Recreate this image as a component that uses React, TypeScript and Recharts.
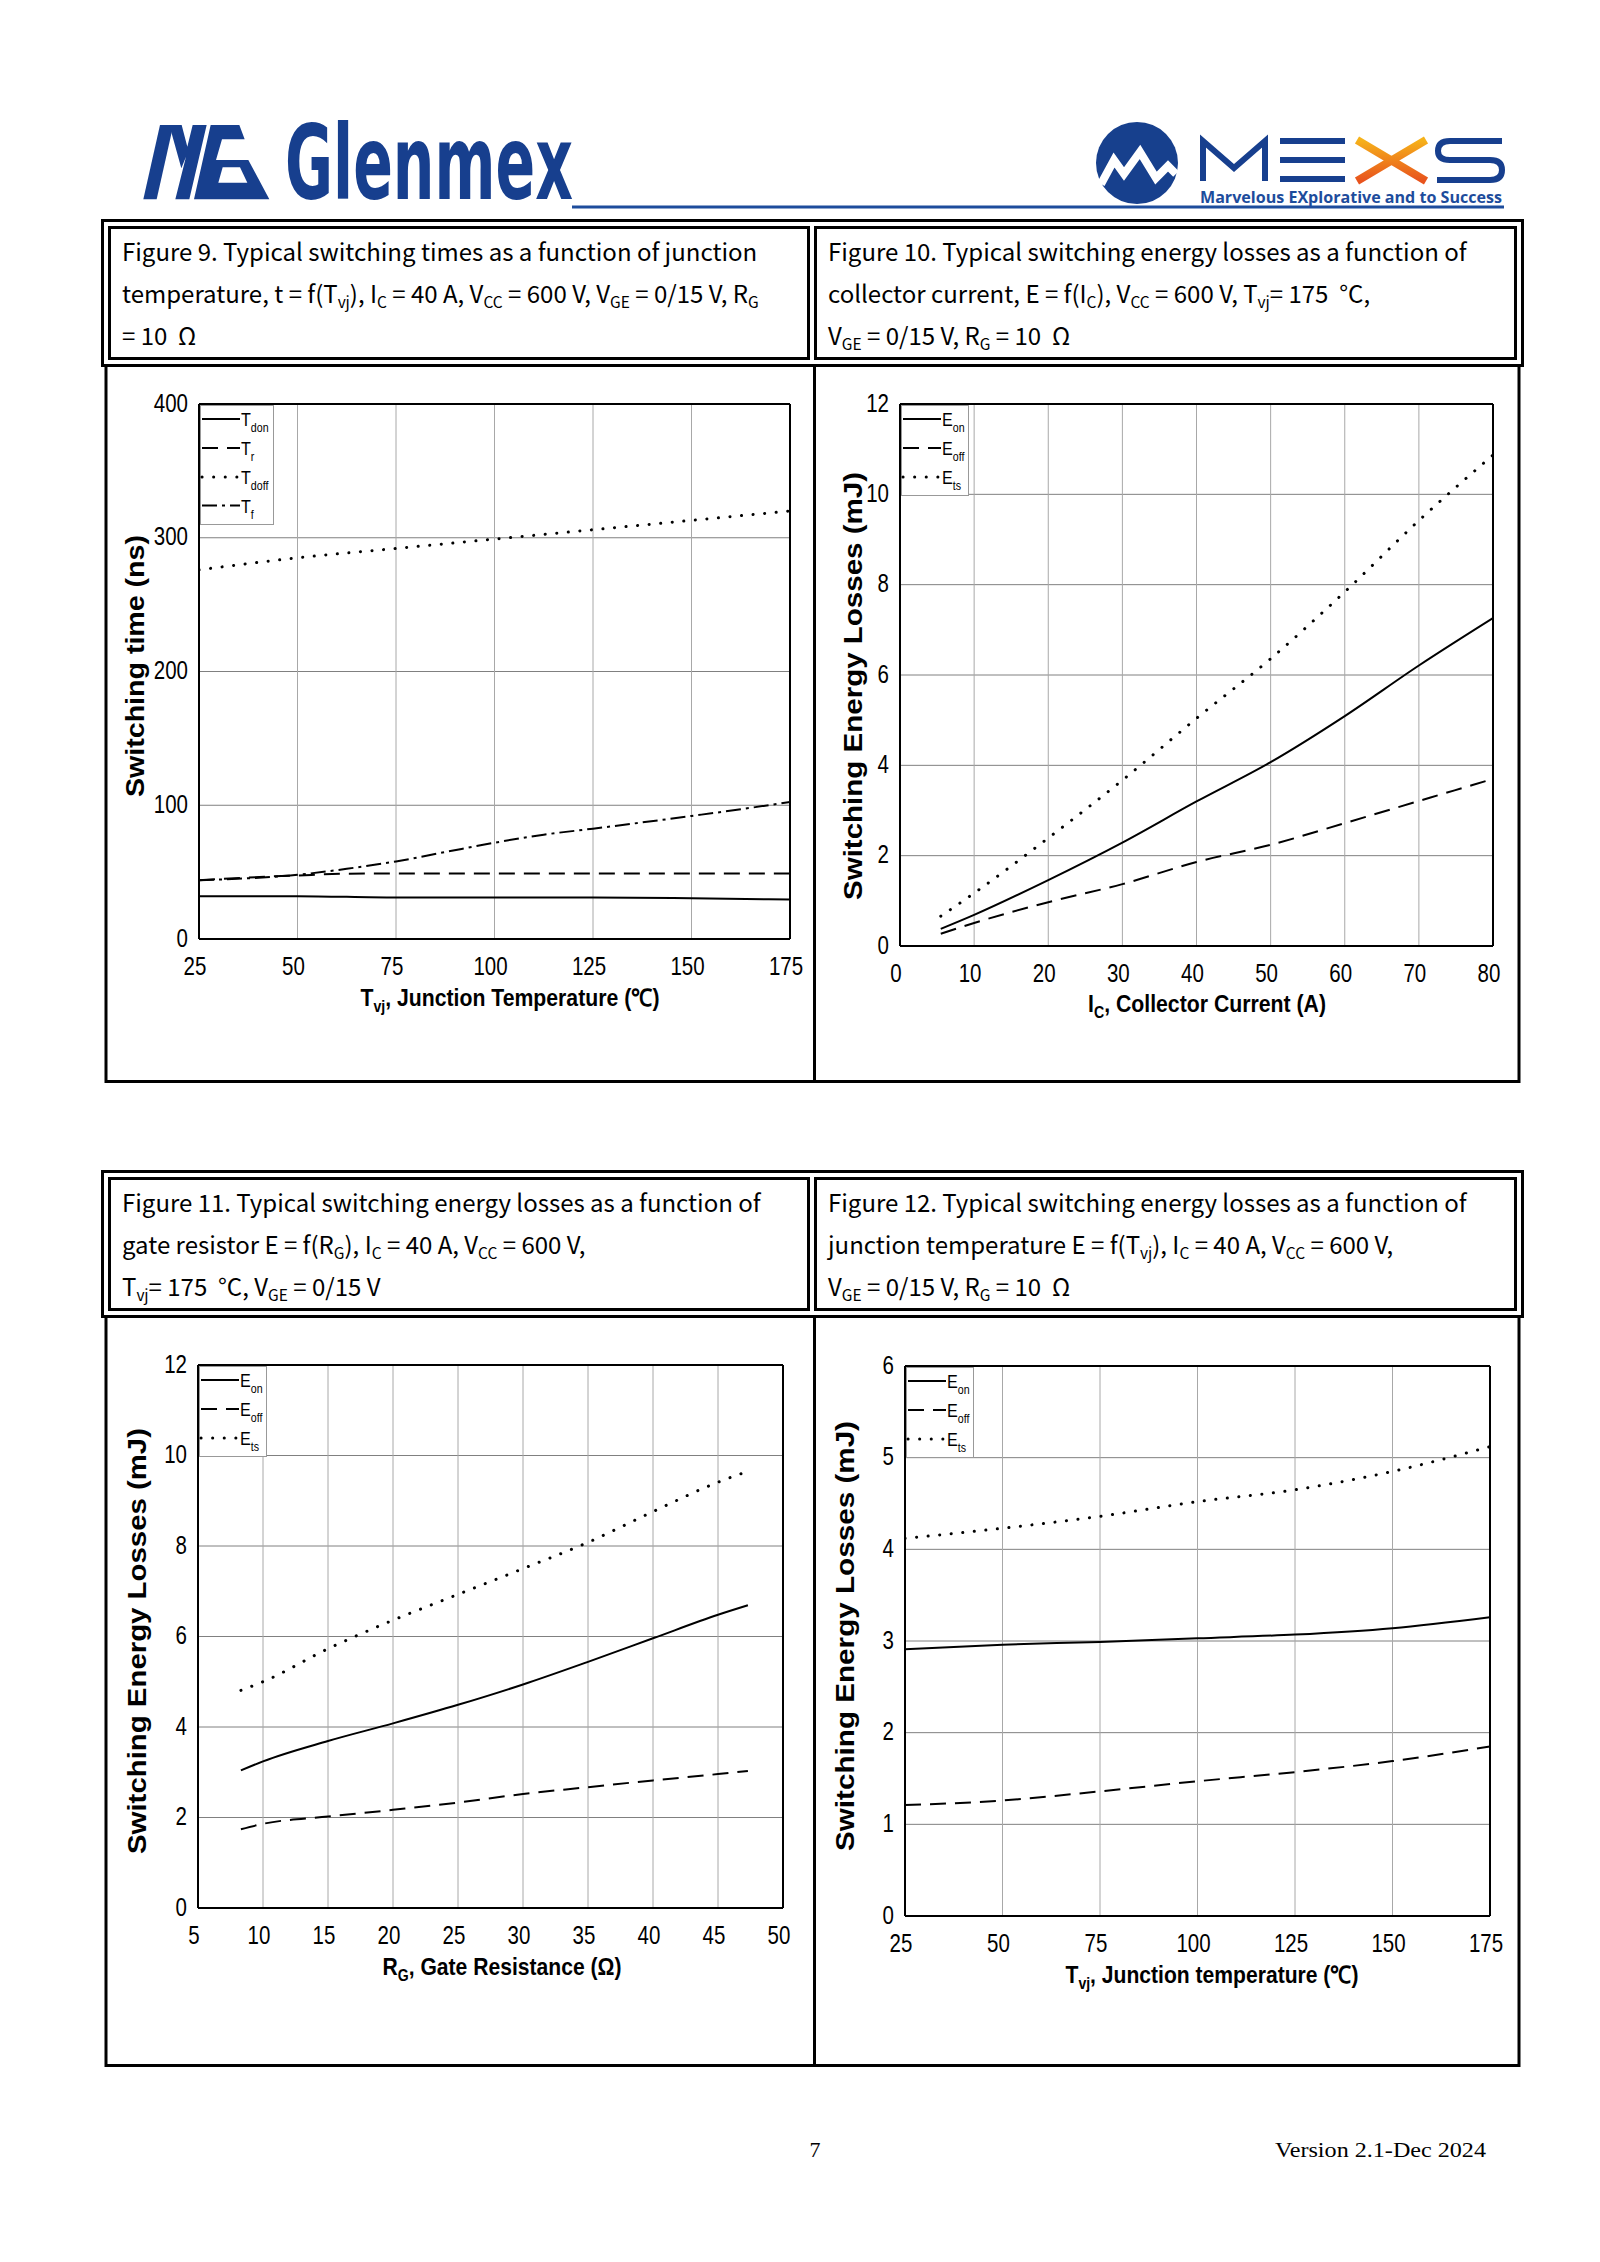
import React from "react";
import { LineChart, Line, XAxis, YAxis, CartesianGrid, ReferenceLine } from "recharts";

// ---- Figure 9: switching times vs junction temperature (ns)
const f9Temp = [25, 50, 75, 100, 125, 150, 175];
const f9Tdon = [32, 32, 31, 31, 31, 30.5, 29.5];
const f9TrTemp = [25, 37.5, 50, 62.5, 75, 100, 125, 150, 175];
const f9Tr = [44, 46, 47.5, 48.8, 49, 49, 49, 49, 49];
const f9Tdoff = [276, 285, 292, 299, 306, 313, 320];
const f9TfTemp = [25, 50, 62.5, 75, 87.5, 100, 112.5, 125, 150, 162.5, 175];
const f9Tf = [44, 48, 52.5, 58, 65, 72, 78, 82.5, 92, 97, 102.5];
const f9XTicks = [25, 50, 75, 100, 125, 150, 175];
const f9YTicks = [0, 100, 200, 300, 400];

// ---- Figure 10: energy losses vs collector current (mJ)
const f10Ic = [5.5, 10, 20, 30, 40, 50, 60, 70, 80];
const f10Eon = [0.38, 0.69, 1.46, 2.29, 3.2, 4.07, 5.09, 6.21, 7.26];
const f10Eoff = [0.27, 0.51, 0.97, 1.37, 1.86, 2.24, 2.72, 3.21, 3.7];
const f10Ets = [0.66, 1.17, 2.39, 3.67, 5.04, 6.36, 7.84, 9.42, 10.87];
const f10XTicks = [0, 10, 20, 30, 40, 50, 60, 70, 80];
const f10YTicks = [0, 2, 4, 6, 8, 10, 12];

// ---- Figure 11: energy losses vs gate resistance (mJ)
const f11Rg = [8.3, 10, 15, 20, 25, 30, 35, 40, 45, 47.3];
const f11Eon = [3.04, 3.24, 3.69, 4.08, 4.49, 4.94, 5.44, 5.96, 6.48, 6.69];
const f11Eoff = [1.74, 1.86, 2.02, 2.17, 2.33, 2.52, 2.67, 2.82, 2.96, 3.03];
const f11Ets = [4.81, 5.0, 5.73, 6.36, 6.93, 7.5, 8.08, 8.76, 9.41, 9.65];
const f11XTicks = [5, 10, 15, 20, 25, 30, 35, 40, 45, 50];
const f11YTicks = [0, 2, 4, 6, 8, 10, 12];

// ---- Figure 12: energy losses vs junction temperature (mJ)
const f12Temp = [25, 50, 75, 100, 125, 150, 175];
const f12Eon = [2.91, 2.96, 2.99, 3.03, 3.07, 3.14, 3.26];
const f12Eoff = [1.21, 1.26, 1.36, 1.47, 1.57, 1.69, 1.85];
const f12Ets = [4.12, 4.23, 4.36, 4.52, 4.65, 4.85, 5.12];
const f12XTicks = [25, 50, 75, 100, 125, 150, 175];
const f12YTicks = [0, 1, 2, 3, 4, 5, 6];

// ---- heading texts (_{..} = subscript)
const t9 = [
  "Figure 9. Typical switching times as a function of junction",
  "temperature, t = f(T_{vj}), I_{C} = 40 A, V_{CC} = 600 V, V_{GE} = 0/15 V, R_{G}",
  "= 10  Ω",
];
const t10 = [
  "Figure 10. Typical switching energy losses as a function of",
  "collector current, E = f(I_{C}), V_{CC} = 600 V, T_{vj}= 175  °C,",
  "V_{GE} = 0/15 V, R_{G} = 10  Ω",
];
const t11 = [
  "Figure 11. Typical switching energy losses as a function of",
  "gate resistor E = f(R_{G}), I_{C} = 40 A, V_{CC} = 600 V,",
  "T_{vj}= 175  °C, V_{GE} = 0/15 V",
];
const t12 = [
  "Figure 12. Typical switching energy losses as a function of",
  "junction temperature E = f(T_{vj}), I_{C} = 40 A, V_{CC} = 600 V,",
  "V_{GE} = 0/15 V, R_{G} = 10  Ω",
];

const AX = "'Liberation Sans', Arial, sans-serif";
const HEAD = "'Noto Sans CJK SC', 'Noto Sans', sans-serif";

const SOLID = { dash: undefined as string | undefined, w: 2, cap: "butt" };
const DASH = { dash: "16 9", w: 2, cap: "butt" };
const DOT = { dash: "0.1 11.5", w: 3, cap: "round" };
const DASHDOT = { dash: "15 5 3 5", w: 2, cap: "butt" };

const pts = (xs: number[], ys: number[]) => xs.map((x, i) => ({ x, y: ys[i] }));

type Ser = { sub: string; main: string; data: { x: number; y: number }[]; st: typeof SOLID };
type Fig = {
  plot: { x: number; y: number; w: number; h: number };
  xDom: [number, number];
  xTicks: number[];
  yDom: [number, number];
  yTicks: number[];
  series: Ser[];
  yTitle: string;
  yTitleX: number;
  yTitleY: number;
  yTitleLen: number;
  xTitle: string;
  xTitleX: number;
  xTitleY: number;
  xTitleLen: number;
  legW: number;
  legH: number;
};

const eSeries = (xsOn: number[], on: number[], xsOff: number[], off: number[], xsTs: number[], ts: number[]): Ser[] => [
  { main: "E", sub: "on", data: pts(xsOn, on), st: SOLID },
  { main: "E", sub: "off", data: pts(xsOff, off), st: DASH },
  { main: "E", sub: "ts", data: pts(xsTs, ts), st: DOT },
];

const figs: Fig[] = [
  {
    plot: { x: 199, y: 404, w: 591, h: 535 },
    xDom: [25, 175], xTicks: f9XTicks, yDom: [0, 400], yTicks: f9YTicks,
    series: [
      { main: "T", sub: "don", data: pts(f9Temp, f9Tdon), st: SOLID },
      { main: "T", sub: "r", data: pts(f9TrTemp, f9Tr), st: DASH },
      { main: "T", sub: "doff", data: pts(f9Temp, f9Tdoff), st: DOT },
      { main: "T", sub: "f", data: pts(f9TfTemp, f9Tf), st: DASHDOT },
    ],
    yTitle: "Switching time (ns)", yTitleX: 144, yTitleY: 666, yTitleLen: 262,
    xTitle: "T_{vj}, Junction Temperature (℃)", xTitleX: 510, xTitleY: 1006, xTitleLen: 299,
    legW: 73, legH: 119,
  },
  {
    plot: { x: 900, y: 404, w: 593, h: 542 },
    xDom: [0, 80], xTicks: f10XTicks, yDom: [0, 12], yTicks: f10YTicks,
    series: eSeries(f10Ic, f10Eon, f10Ic, f10Eoff, f10Ic, f10Ets),
    yTitle: "Switching Energy Losses (mJ)", yTitleX: 862, yTitleY: 686, yTitleLen: 428,
    xTitle: "I_{C}, Collector Current (A)", xTitleX: 1207, xTitleY: 1012, xTitleLen: 238,
    legW: 67, legH: 90,
  },
  {
    plot: { x: 198, y: 1365, w: 585, h: 543 },
    xDom: [5, 50], xTicks: f11XTicks, yDom: [0, 12], yTicks: f11YTicks,
    series: eSeries(f11Rg, f11Eon, f11Rg, f11Eoff, f11Rg, f11Ets),
    yTitle: "Switching Energy Losses (mJ)", yTitleX: 146, yTitleY: 1641, yTitleLen: 426,
    xTitle: "R_{G}, Gate Resistance (Ω)", xTitleX: 502, xTitleY: 1975, xTitleLen: 239,
    legW: 67, legH: 90,
  },
  {
    plot: { x: 905, y: 1366, w: 585, h: 550 },
    xDom: [25, 175], xTicks: f12XTicks, yDom: [0, 6], yTicks: f12YTicks,
    series: eSeries(f12Temp, f12Eon, f12Temp, f12Eoff, f12Temp, f12Ets),
    yTitle: "Switching Energy Losses (mJ)", yTitleX: 854, yTitleY: 1636, yTitleLen: 430,
    xTitle: "T_{vj}, Junction temperature (℃)", xTitleX: 1212, xTitleY: 1983, xTitleLen: 293,
    legW: 67, legH: 90,
  },
];

const parse = (s: string) =>
  s.split(/(_\{[^}]*\})/).filter(Boolean).map((p) =>
    p.startsWith("_{") ? { t: p.slice(2, -1), sub: true } : { t: p, sub: false }
  );

function Rich({ s, subSize, subDy }: { s: string; subSize: number; subDy: number }) {
  const parts = parse(s);
  return (
    <>
      {parts.map((p, i) => {
        const prevSub = i > 0 && parts[i - 1].sub;
        const dy = p.sub ? subDy : prevSub ? -subDy : 0;
        return (
          <tspan key={i} dy={dy || undefined} fontSize={p.sub ? subSize : undefined}>
            {p.t}
          </tspan>
        );
      })}
    </>
  );
}

const M_TOP = 30, M_LEFT = 40, M_RIGHT = 30, M_BOTTOM = 90, YW = 60, XH = 40;

function Chart({ f }: { f: Fig }) {
  const { plot } = f;
  const left = plot.x - M_LEFT - YW;
  const top = plot.y - M_TOP;
  const width = plot.w + M_LEFT + YW + M_RIGHT;
  const height = plot.h + M_TOP + M_BOTTOM + XH;
  const xTick = (p: any) => (
    <text transform={`translate(${p.x - 4},${p.y + 35.5}) scale(0.82,1)`} textAnchor="middle" fontSize={25} fontFamily={AX} fill="#000">
      {p.payload.value}
    </text>
  );
  const yTick = (p: any) => (
    <text transform={`translate(${p.x - 11},${p.y + 7.5}) scale(0.82,1)`} textAnchor="end" fontSize={25} fontFamily={AX} fill="#000">
      {p.payload.value}
    </text>
  );
  return (
    <div style={{ position: "absolute", left, top }}>
      <LineChart width={width} height={height} margin={{ top: M_TOP, left: M_LEFT, right: M_RIGHT, bottom: M_BOTTOM }}>
        <CartesianGrid vertical={false} stroke="#808080" strokeWidth={1} horizontalValues={f.yTicks} />
        <CartesianGrid horizontal={false} stroke="#a8a8a8" strokeWidth={1} verticalValues={f.xTicks} />
        <XAxis type="number" dataKey="x" domain={f.xDom} ticks={f.xTicks} interval={0} allowDataOverflow
          height={XH} tickSize={0} tickMargin={0} tickLine={false} tick={xTick}
          axisLine={{ stroke: "#000", strokeWidth: 2 }} />
        <YAxis type="number" dataKey="y" domain={f.yDom} ticks={f.yTicks} interval={0} allowDataOverflow
          width={YW} tickSize={0} tickMargin={0} tickLine={false} tick={yTick}
          axisLine={{ stroke: "#000", strokeWidth: 2 }} />
        <ReferenceLine y={f.yDom[1]} stroke="#000" strokeWidth={2} />
        <ReferenceLine x={f.xDom[1]} stroke="#000" strokeWidth={2} />
        {f.series.map((s, i) => (
          <Line key={i} data={s.data} dataKey="y" type="monotone" stroke="#000" strokeWidth={s.st.w}
            strokeDasharray={s.st.dash} strokeLinecap={s.st.cap as any} dot={false} activeDot={false}
            isAnimationActive={false} />
        ))}
      </LineChart>
    </div>
  );
}

function Overlay({ f }: { f: Fig }) {
  const { plot } = f;
  const rows = [15, 44, 73, 101.5];
  return (
    <g>
      <rect x={plot.x + 1.5} y={plot.y + 1.5} width={f.legW} height={f.legH} fill="#fff" stroke="#999" strokeWidth={1} />
      {f.series.map((s, i) => (
        <g key={i}>
          <line x1={plot.x + 3} x2={plot.x + 41} y1={plot.y + rows[i]} y2={plot.y + rows[i]} stroke="#000"
            strokeWidth={s.st.w} strokeDasharray={s.st.dash} strokeLinecap={s.st.cap as any} />
          <text transform={`translate(${plot.x + 42},${plot.y + rows[i] + 7}) scale(0.85,1)`} fontSize={19} fontFamily={AX}>
            {s.main}
            <tspan dy={6} fontSize={12.5}>{s.sub}</tspan>
          </text>
        </g>
      ))}
      <text transform={`translate(${f.yTitleX},${f.yTitleY}) rotate(-90)`} textAnchor="middle" fontSize={25}
        fontWeight="bold" fontFamily={AX} textLength={f.yTitleLen} lengthAdjust="spacingAndGlyphs">
        {f.yTitle}
      </text>
      <text x={f.xTitleX} y={f.xTitleY} textAnchor="middle" fontSize={24} fontWeight="bold" fontFamily={AX}
        textLength={f.xTitleLen} lengthAdjust="spacingAndGlyphs">
        <Rich s={f.xTitle} subSize={16} subDy={6} />
      </text>
    </g>
  );
}

function Heading({ lines, x, y }: { lines: string[]; x: number; y: number }) {
  return (
    <g>
      {lines.map((l, i) => (
        <text key={i} x={x} y={y + i * 42} fontSize={24} fontFamily={HEAD} style={{ whiteSpace: "pre" }}>
          <Rich s={l} subSize={15.5} subDy={5} />
        </text>
      ))}
    </g>
  );
}

function Section({ dy, bottom }: { dy: number; bottom: number }) {
  return (
    <g fill="none" stroke="#000">
      <rect x={102.5} y={220.5 + dy} width={1420} height={145} strokeWidth={3} />
      <rect x={109.5} y={227.5 + dy} width={699} height={131} strokeWidth={3} />
      <rect x={815.5} y={227.5 + dy} width={700} height={131} strokeWidth={3} />
      <rect x={106} y={365.5 + dy} width={1413} height={bottom - 365.5 - dy} strokeWidth={3} />
      <line x1={814.5} x2={814.5} y1={365 + dy} y2={bottom} strokeWidth={3} />
    </g>
  );
}

function Logos() {
  const blue = "#173f8e";
  const s = (zx: number, zy: number) => `${110 + zx / 3},${110 + zy / 3}`;
  return (
    <g>
      {/* MG mark */}
      <polygon fill={blue} points={[s(100, 268), s(150, 45), s(190, 45), s(140, 268)].join(" ")} />
      <polygon fill={blue} points={[s(178, 45), s(215, 45), s(232, 110), s(248, 45), s(290, 45), s(238, 268), s(196, 268), s(228, 140), s(214, 175)].join(" ")} />
      <polygon fill={blue} points={[s(252, 268), s(302, 45), s(388, 45), s(404, 88), s(336, 88), s(318, 150), s(415, 150), s(478, 268)].join(" ")} />
      <polygon fill="#fff" points={[s(325, 218), s(412, 218), s(390, 172), s(338, 172)].join(" ")} />
      <text x={285} y={199} fontSize={104} fontWeight="bold" fontFamily="'DejaVu Sans', sans-serif" fill={blue}
        textLength={288} lengthAdjust="spacingAndGlyphs">Glenmex</text>
      <line x1={572} x2={1504} y1={207} y2={207} stroke="#1d4c9c" strokeWidth={3} />
      {/* MEXS */}
      <circle cx={1137} cy={163} r={41} fill="#17408d" />
      <polyline points="1101,184 1114,160 1124,174 1140,152 1156,178 1168,166 1176,174" fill="none" stroke="#fff" strokeWidth={8} strokeLinejoin="miter" />
      <path d="M1203 181 V141 L1234 168 L1265 141 V181" fill="none" stroke={blue} strokeWidth={6} />
      <path d="M1280 141 H1345 M1280 160 H1345 M1280 179 H1345" fill="none" stroke={blue} strokeWidth={6} />
      <defs>
        <linearGradient id="xg" x1="0" y1="0" x2="0" y2="1">
          <stop offset="0" stopColor="#f6b21a" />
          <stop offset="1" stopColor="#e8531d" />
        </linearGradient>
      </defs>
      <path d="M1357 140 L1426 181 M1426 140 L1357 181" fill="none" stroke="url(#xg)" strokeWidth={8} />
      <path d="M1502 141 H1450 Q1438 141 1438 151 Q1438 160 1450 160 H1490 Q1502 160 1502 170 Q1502 180 1490 180 H1437"
        fill="none" stroke={blue} strokeWidth={6} />
      <text x={1200} y={203} fontSize={16} fontWeight="bold" fontFamily="'Open Sans', sans-serif" fill="#1d4c9c"
        textLength={302} lengthAdjust="spacingAndGlyphs">Marvelous EXplorative and to Success</text>
    </g>
  );
}

export default function App() {
  return (
    <div style={{ position: "absolute", left: 0, top: 0, width: 1600, height: 2262, background: "#fff", overflow: "hidden" }}>
      {figs.map((f, i) => (
        <Chart key={i} f={f} />
      ))}
      <svg width={1600} height={2262} style={{ position: "absolute", left: 0, top: 0, pointerEvents: "none" }}>
        <Logos />
        <Section dy={0} bottom={1081.5} />
        <Section dy={951} bottom={2065.5} />
        <Heading lines={t9} x={122} y={261} />
        <Heading lines={t10} x={828} y={261} />
        <Heading lines={t11} x={122} y={1212} />
        <Heading lines={t12} x={828} y={1212} />
        {figs.map((f, i) => (
          <Overlay key={i} f={f} />
        ))}
        <text x={815} y={2157} textAnchor="middle" fontSize={22} fontFamily="'Liberation Serif', serif">7</text>
        <text x={1275} y={2157} fontSize={22} fontFamily="'Liberation Serif', serif" textLength={211}
          lengthAdjust="spacingAndGlyphs">Version 2.1-Dec 2024</text>
      </svg>
    </div>
  );
}
